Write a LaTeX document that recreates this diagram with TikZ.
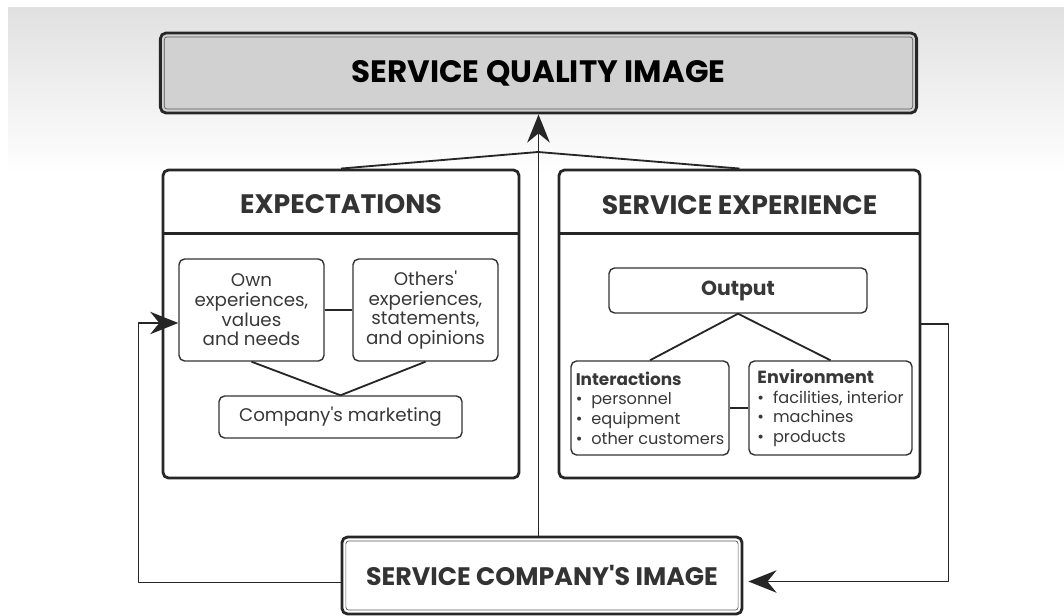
\documentclass[tikz,border=0pt]{standalone}
\usepackage{fontspec}
\setmainfont{Poppins}
\usetikzlibrary{positioning,fit,calc,arrows.meta}

\begin{document}
\begin{tikzpicture}[
        x=0.025cm, y=-0.025cm,
        line join=round,
        bigbox/.style={draw=black!85, line width=2pt, rounded corners=4pt},
        innerline/.style={draw=black!65, line width=0.5pt, rounded corners=2pt, inner sep=-3.8pt},
        smallbox/.style={draw=black!80, line width=1pt, rounded corners=4pt, align=center, inner sep=2pt,
            font=\fontsize{13}{14}\selectfont\color{black!78}},
        listbox/.style={smallbox, align=left, font=\fontsize{11.5}{14}\selectfont\color{black!78}},
        headtext/.style={font=\fontsize{19}{19}\selectfont\bfseries\color{black!80}},
        link/.style={draw=black!85, line width=1.3pt},
        feedback/.style={link, -{Stealth[length=20pt,width=16pt,inset=6.5pt]}}
    ]
        % Page
        \useasboundingbox (0,0) rectangle (1064,616);
        \shade[top color=black!12, bottom color=white] (8,8) rectangle (1064,175);

        % Service quality image
        \node (quality) at (538.5,73) [bigbox, fill=black!18, minimum width=18.9cm, minimum height=2cm, headtext, font=\fontsize{22}{22}\selectfont\bfseries] {SERVICE QUALITY IMAGE};
        \node (qualityin) [innerline, fit=(quality)] {};

        % Expectations
        \node (expbox) at (341,324) [bigbox, minimum width=8.9cm, minimum height=7.7cm] {};
        \node (exptitle) at (341,204) [headtext] {EXPECTATIONS};
        \draw[link, line width=1.5pt] ($(expbox.north west)+(0,65)$) -- ($(expbox.north east)+(0,65)$);
            \node (own) at (251.5,310) [smallbox, minimum width=3.625cm, minimum height=2.55cm] {Own\\experiences,\\values\\and needs};
            \node (others) at (425.5,310) [smallbox, minimum width=3.625cm, minimum height=2.55cm] {Others\textquotesingle\\experiences,\\statements,\\and opinions};
            \node (marketing) at (340.5,417) [smallbox, minimum width=6.075cm, minimum height=1.05cm] {Company\textquotesingle s marketing};

        % Service experience
        \node (sexpbox) at (739.5,324) [bigbox, minimum width=9.025cm, minimum height=7.7cm] {};
        \node (sexptitle) at (739.5,205) [headtext] {SERVICE EXPERIENCE};
        \draw[link, line width=1.5pt] ($(sexpbox.north west)+(0,65)$) -- ($(sexpbox.north east)+(0,65)$);
            \node (output) at (738,290.5) [smallbox, minimum width=6.45cm, minimum height=1.125cm, font=\fontsize{14.5}{14.5}\selectfont\bfseries\color{black!78}] {Output};
            \node (interactions) at (650,408) [listbox, minimum width=3.95cm, minimum height=2.35cm] {\fontsize{12}{14}\selectfont\textbf{Interactions}\\\textbullet\hspace{0.55em}personnel\\\textbullet\hspace{0.55em}equipment\\\textbullet\hspace{0.55em}other customers};
            \node (environment) at (830.5,408) [listbox, minimum width=4.075cm, minimum height=2.35cm] {\fontsize{12.5}{14}\selectfont\textbf{Environment}\\\textbullet\hspace{0.55em}facilities, interior\\\textbullet\hspace{0.55em}machines\\\textbullet\hspace{0.55em}products};

        % Service company's image
        \node (image) at (542,575.5) [bigbox, fill=white, minimum width=10cm, minimum height=1.925cm, font=\fontsize{18}{18}\selectfont\bfseries\color{black!80}] {SERVICE COMPANY\textquotesingle S IMAGE};
        \node (imagein) [innerline, fit=(image)] {};

        % Links
        \coordinate (join) at (538,152);
        \draw[link] (own) -- (others);
        \draw[link] (own.south) -- (marketing.north);
        \draw[link] (others.south) -- (marketing.north);
        \draw[link] (output.south) -- (interactions.north);
        \draw[link] (output.south) -- (environment.north);
        \draw[link] (interactions) -- (environment);
        \draw[link] (expbox.north) -- (join) -- (sexpbox.north);

        % Arrows
        \draw[feedback] (quality.south |- image.north) -- (quality.south);
        \draw[feedback] ($(image.west)+(0,7)$) -- ++(-202,0) |- ($(own.west)+(0,13)$);
        \draw[feedback] (sexpbox.east) -- ++(27,0) |- ($(image.east)+(5,6)$);
\end{tikzpicture}
\end{document}
